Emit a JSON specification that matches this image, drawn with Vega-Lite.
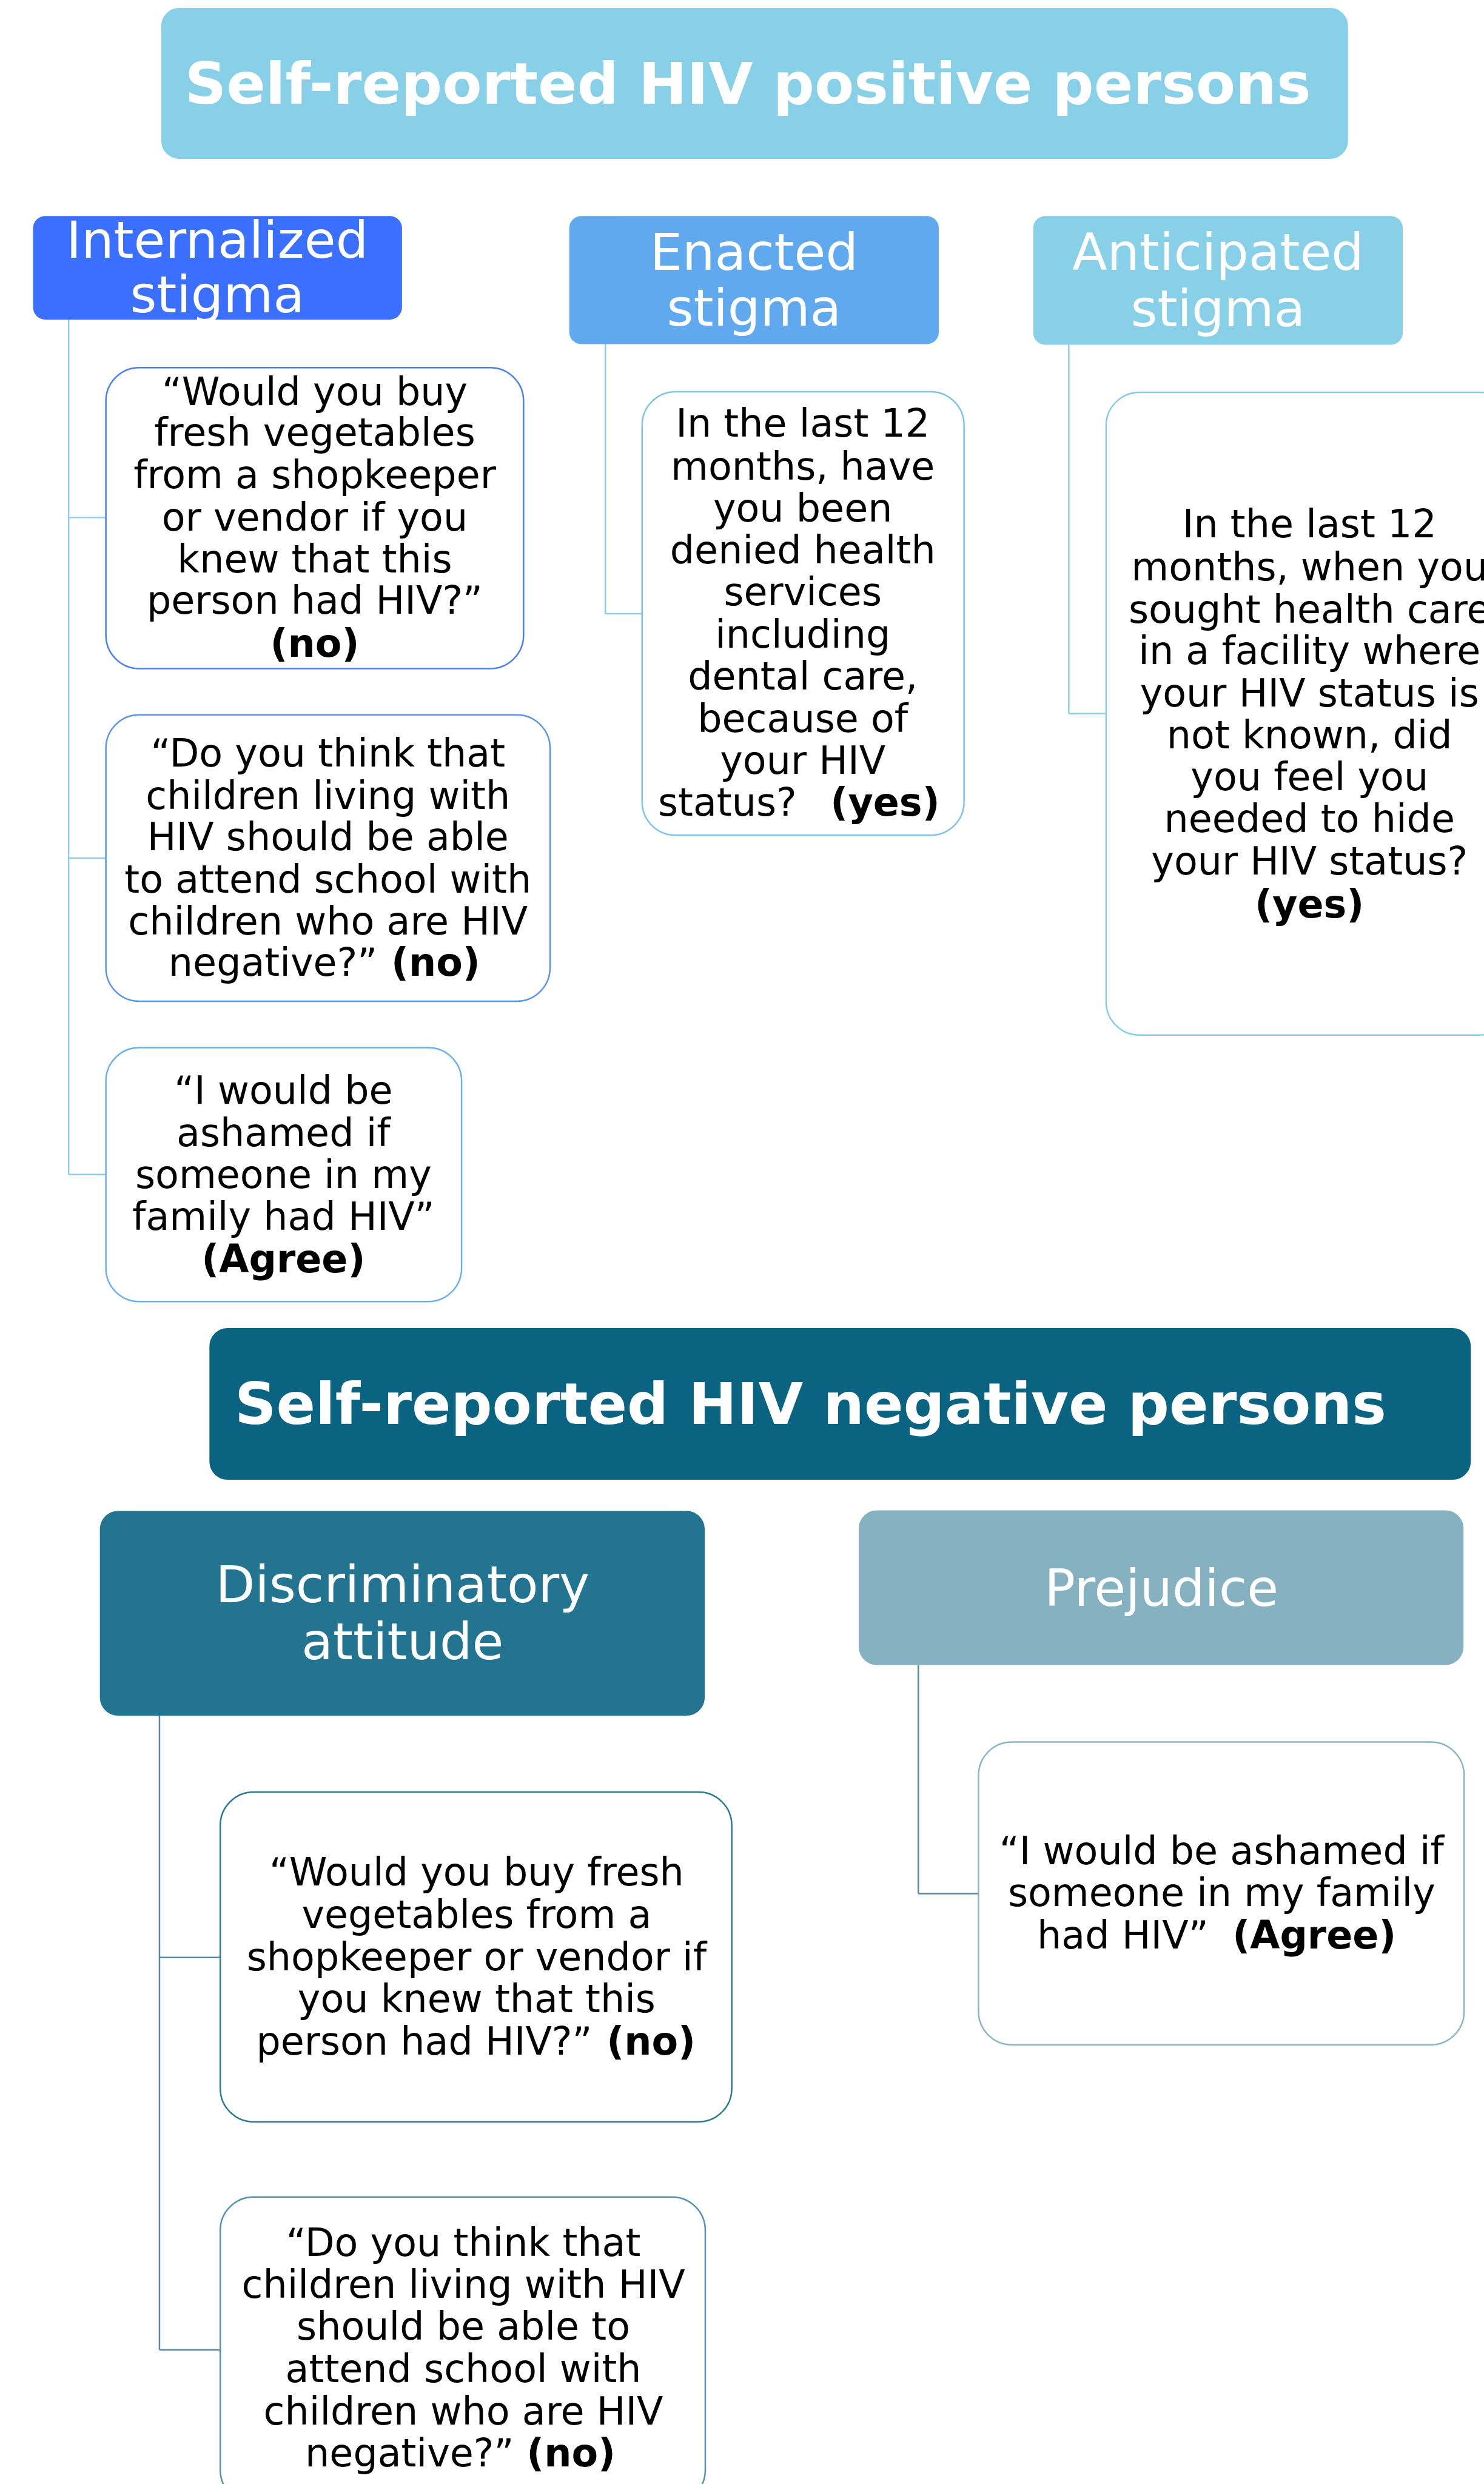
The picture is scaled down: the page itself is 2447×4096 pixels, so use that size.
{
  "$schema": "https://vega.github.io/schema/vega-lite/v6.json",
  "width": 2447,
  "height": 4096,
  "padding": 0,
  "autosize": {"type": "none"},
  "background": "white",
  "config": {"view": {"stroke": null}},
  "datasets": {
    "boxes": [
      {"id": "title_pos", "x": 268, "x2": 2240, "y": 13, "y2": 264, "kind": "fill30"},
      {"id": "title_neg", "x": 348, "x2": 2444, "y": 2207, "y2": 2459, "kind": "fill30"},
      {"id": "h_int", "x": 55, "x2": 668, "y": 359, "y2": 531, "kind": "fill20"},
      {"id": "h_ena", "x": 946, "x2": 1560, "y": 359, "y2": 572, "kind": "fill20"},
      {"id": "h_ant", "x": 1717, "x2": 2331, "y": 359, "y2": 573, "kind": "fill20"},
      {"id": "h_dis", "x": 166, "x2": 1171, "y": 2511, "y2": 2851, "kind": "fill30"},
      {"id": "h_pre", "x": 1427, "x2": 2432, "y": 2510, "y2": 2767, "kind": "fill30"},
      {"id": "b_int1", "x": 176, "x2": 870, "y": 611, "y2": 1111, "kind": "outline"},
      {"id": "b_int2", "x": 176, "x2": 914, "y": 1188, "y2": 1664, "kind": "outline"},
      {"id": "b_int3", "x": 176, "x2": 767, "y": 1741, "y2": 2163, "kind": "outline"},
      {"id": "b_ena", "x": 1067, "x2": 1602, "y": 651, "y2": 1388, "kind": "outline"},
      {"id": "b_ant", "x": 1838, "x2": 2515, "y": 652, "y2": 1720, "kind": "outline"},
      {"id": "b_pre", "x": 1626, "x2": 2433, "y": 2895, "y2": 3398, "kind": "outline"},
      {"id": "b_dis1", "x": 366, "x2": 1216, "y": 2978, "y2": 3526, "kind": "outline"},
      {"id": "b_dis2", "x": 366, "x2": 1172, "y": 3651, "y2": 4160, "kind": "outline"}
    ],
    "links": [
      {"grp": "c_pos", "x": 114, "y": 531, "x2": 114, "y2": 1952},
      {"grp": "c_pos", "x": 114, "y": 860, "x2": 176, "y2": 860},
      {"grp": "c_pos", "x": 114, "y": 1426, "x2": 176, "y2": 1426},
      {"grp": "c_pos", "x": 114, "y": 1952, "x2": 176, "y2": 1952},
      {"grp": "c_pos", "x": 1006, "y": 572, "x2": 1006, "y2": 1020},
      {"grp": "c_pos", "x": 1006, "y": 1020, "x2": 1067, "y2": 1020},
      {"grp": "c_pos", "x": 1776, "y": 573, "x2": 1776, "y2": 1186},
      {"grp": "c_pos", "x": 1776, "y": 1186, "x2": 1838, "y2": 1186},
      {"grp": "c_neg", "x": 265, "y": 2851, "x2": 265, "y2": 3905},
      {"grp": "c_neg", "x": 265, "y": 3253, "x2": 366, "y2": 3253},
      {"grp": "c_neg", "x": 265, "y": 3905, "x2": 366, "y2": 3905},
      {"grp": "c_neg", "x": 1526, "y": 2767, "x2": 1526, "y2": 3147},
      {"grp": "c_neg", "x": 1526, "y": 3147, "x2": 1626, "y2": 3147}
    ],
    "texts": [
      {"t": "Self-reported HIV positive persons", "x": 307, "y": 172, "s": "title"},
      {"t": "Self-reported HIV negative persons", "x": 390, "y": 2366, "s": "title"},
      {"t": "Internalized", "x": 361, "y": 428, "s": "head"},
      {"t": "stigma", "x": 361, "y": 519, "s": "head"},
      {"t": "Enacted", "x": 1253, "y": 448, "s": "head"},
      {"t": "stigma", "x": 1253, "y": 541, "s": "head"},
      {"t": "Anticipated", "x": 2024, "y": 448, "s": "head"},
      {"t": "stigma", "x": 2024, "y": 542, "s": "head"},
      {"t": "Discriminatory", "x": 669, "y": 2663, "s": "head"},
      {"t": "attitude", "x": 669, "y": 2757, "s": "head"},
      {"t": "Prejudice", "x": 1930, "y": 2669, "s": "head"},
      {"t": "“Would you buy", "x": 523, "y": 673, "s": "b"},
      {"t": "fresh vegetables", "x": 523, "y": 741, "s": "b"},
      {"t": "from a shopkeeper", "x": 523, "y": 811, "s": "b"},
      {"t": "or vendor if you", "x": 523, "y": 882, "s": "b"},
      {"t": "knew that this", "x": 523, "y": 951, "s": "b"},
      {"t": "person had HIV?”", "x": 523, "y": 1020, "s": "b"},
      {"t": "(no)", "x": 523, "y": 1091, "s": "bb"},
      {"t": "“Do you think that", "x": 545, "y": 1274, "s": "b"},
      {"t": "children living with", "x": 545, "y": 1344, "s": "b"},
      {"t": "HIV should be able", "x": 545, "y": 1413, "s": "b"},
      {"t": "to attend school with", "x": 545, "y": 1483, "s": "b"},
      {"t": "children who are HIV", "x": 545, "y": 1553, "s": "b"},
      {"t": "negative?”", "x": 627, "y": 1622, "s": "br"},
      {"t": "(no)", "x": 650, "y": 1622, "s": "bl"},
      {"t": "“I would be", "x": 471, "y": 1834, "s": "b"},
      {"t": "ashamed if", "x": 471, "y": 1905, "s": "b"},
      {"t": "someone in my", "x": 471, "y": 1974, "s": "b"},
      {"t": "family had HIV”", "x": 471, "y": 2044, "s": "b"},
      {"t": "(Agree)", "x": 471, "y": 2114, "s": "bb"},
      {"t": "In the last 12", "x": 1334, "y": 726, "s": "b"},
      {"t": "months, have", "x": 1334, "y": 797, "s": "b"},
      {"t": "you been", "x": 1334, "y": 867, "s": "b"},
      {"t": "denied health", "x": 1334, "y": 936, "s": "b"},
      {"t": "services", "x": 1334, "y": 1006, "s": "b"},
      {"t": "including", "x": 1334, "y": 1076, "s": "b"},
      {"t": "dental care,", "x": 1334, "y": 1146, "s": "b"},
      {"t": "because of", "x": 1334, "y": 1216, "s": "b"},
      {"t": "your HIV", "x": 1334, "y": 1286, "s": "b"},
      {"t": "status?", "x": 1324, "y": 1356, "s": "br"},
      {"t": "(yes)", "x": 1380, "y": 1356, "s": "bl"},
      {"t": "In the last 12", "x": 2176, "y": 893, "s": "b"},
      {"t": "months, when you", "x": 2176, "y": 964, "s": "b"},
      {"t": "sought health care", "x": 2176, "y": 1035, "s": "b"},
      {"t": "in a facility where", "x": 2176, "y": 1104, "s": "b"},
      {"t": "your HIV status is", "x": 2176, "y": 1174, "s": "b"},
      {"t": "not known, did", "x": 2176, "y": 1244, "s": "b"},
      {"t": "you feel you", "x": 2176, "y": 1313, "s": "b"},
      {"t": "needed to hide", "x": 2176, "y": 1383, "s": "b"},
      {"t": "your HIV status?", "x": 2176, "y": 1453, "s": "b"},
      {"t": "(yes)", "x": 2176, "y": 1525, "s": "bb"},
      {"t": "“I would be ashamed if", "x": 2030, "y": 3098, "s": "b"},
      {"t": "someone in my family", "x": 2030, "y": 3168, "s": "b"},
      {"t": "had HIV”", "x": 2008, "y": 3238, "s": "br"},
      {"t": "(Agree)", "x": 2048, "y": 3238, "s": "bl"},
      {"t": "“Would you buy fresh", "x": 792, "y": 3133, "s": "b"},
      {"t": "vegetables from a", "x": 792, "y": 3204, "s": "b"},
      {"t": "shopkeeper or vendor if", "x": 792, "y": 3274, "s": "b"},
      {"t": "you knew that this", "x": 792, "y": 3344, "s": "b"},
      {"t": "person had HIV?”", "x": 984, "y": 3414, "s": "br"},
      {"t": "(no)", "x": 1008, "y": 3414, "s": "bl"},
      {"t": "“Do you think that", "x": 770, "y": 3749, "s": "b"},
      {"t": "children living with HIV", "x": 770, "y": 3819, "s": "b"},
      {"t": "should be able to", "x": 770, "y": 3888, "s": "b"},
      {"t": "attend school with", "x": 770, "y": 3959, "s": "b"},
      {"t": "children who are HIV", "x": 770, "y": 4029, "s": "b"},
      {"t": "negative?”", "x": 854, "y": 4099, "s": "br"},
      {"t": "(no)", "x": 875, "y": 4099, "s": "bl"}
    ]
  },
  "encoding": {
    "x": {"field": "x", "type": "quantitative", "scale": {"domain": [0, 2466], "nice": false, "zero": false}, "axis": null},
    "y": {"field": "y", "type": "quantitative", "scale": {"domain": [0, 4128], "nice": false, "zero": false, "reverse": true}, "axis": null}
  },
  "layer": [
    {
      "data": {"name": "links"},
      "mark": {"type": "rule", "strokeWidth": 2.5, "clip": true},
      "encoding": {
        "x2": {"field": "x2"},
        "y2": {"field": "y2"},
        "stroke": {"field": "grp", "type": "nominal", "legend": null,
          "scale": {"domain": ["b_int1", "b_int2", "b_int3", "b_ena", "b_ant", "b_pre", "b_dis1", "b_dis2", "c_pos", "c_neg"],
                    "range": ["#4A7FF2", "#5A95EC", "#6BB0EC", "#7FC3EA", "#88CDE8", "#8AB5C4", "#2B7896", "#5592AC", "#8DCDEA", "#5788A0"]}}
      }
    },
    {
      "data": {"name": "boxes"},
      "transform": [{"filter": "datum.kind === 'fill20'"}],
      "mark": {"type": "rect", "cornerRadius": 20, "clip": true},
      "encoding": {
        "x2": {"field": "x2"},
        "y2": {"field": "y2"},
        "fill": {"field": "id", "type": "nominal", "legend": null,
          "scale": {"domain": ["title_pos", "title_neg", "h_int", "h_ena", "h_ant", "h_dis", "h_pre"],
                    "range": ["#88CFE8", "#0A6481", "#3B6FFF", "#60A9EF", "#88CFE8", "#237490", "#85B1C1"]}}
      }
    },
    {
      "data": {"name": "boxes"},
      "transform": [{"filter": "datum.kind === 'fill30'"}],
      "mark": {"type": "rect", "cornerRadius": 30, "clip": true},
      "encoding": {
        "x2": {"field": "x2"},
        "y2": {"field": "y2"},
        "fill": {"field": "id", "type": "nominal", "legend": null,
          "scale": {"domain": ["title_pos", "title_neg", "h_int", "h_ena", "h_ant", "h_dis", "h_pre"],
                    "range": ["#88CFE8", "#0A6481", "#3B6FFF", "#60A9EF", "#88CFE8", "#237490", "#85B1C1"]}}
      }
    },
    {
      "data": {"name": "boxes"},
      "transform": [{"filter": "datum.kind === 'outline'"}],
      "mark": {"type": "rect", "cornerRadius": 55, "fill": "white", "strokeWidth": 2.5, "clip": true},
      "encoding": {
        "x2": {"field": "x2"},
        "y2": {"field": "y2"},
        "stroke": {"field": "id", "type": "nominal", "legend": null,
          "scale": {"domain": ["b_int1", "b_int2", "b_int3", "b_ena", "b_ant", "b_pre", "b_dis1", "b_dis2", "c_pos", "c_neg"],
                    "range": ["#4A7FF2", "#5A95EC", "#6BB0EC", "#7FC3EA", "#88CDE8", "#8AB5C4", "#2B7896", "#5592AC", "#8DCDEA", "#5788A0"]}}
      }
    },
    {
      "data": {"name": "texts"},
      "transform": [{"filter": "datum.s === 'title'"}],
      "mark": {"type": "text", "align": "left", "baseline": "alphabetic", "font": "DejaVu Sans", "fontWeight": "bold", "fontSize": 95.2, "color": "white", "clip": true},
      "encoding": {"text": {"field": "t"}}
    },
    {
      "data": {"name": "texts"},
      "transform": [{"filter": "datum.s === 'head'"}],
      "mark": {"type": "text", "align": "center", "baseline": "alphabetic", "font": "DejaVu Sans", "fontSize": 84.3, "color": "white", "clip": true},
      "encoding": {"text": {"field": "t"}}
    },
    {
      "data": {"name": "texts"},
      "transform": [{"filter": "datum.s === 'b'"}],
      "mark": {"type": "text", "align": "center", "baseline": "alphabetic", "font": "DejaVu Sans", "fontSize": 63.5, "color": "black", "clip": true},
      "encoding": {"text": {"field": "t"}}
    },
    {
      "data": {"name": "texts"},
      "transform": [{"filter": "datum.s === 'bb'"}],
      "mark": {"type": "text", "align": "center", "baseline": "alphabetic", "font": "DejaVu Sans", "fontWeight": "bold", "fontSize": 63.5, "color": "black", "clip": true},
      "encoding": {"text": {"field": "t"}}
    },
    {
      "data": {"name": "texts"},
      "transform": [{"filter": "datum.s === 'br'"}],
      "mark": {"type": "text", "align": "right", "baseline": "alphabetic", "font": "DejaVu Sans", "fontSize": 63.5, "color": "black", "clip": true},
      "encoding": {"text": {"field": "t"}}
    },
    {
      "data": {"name": "texts"},
      "transform": [{"filter": "datum.s === 'bl'"}],
      "mark": {"type": "text", "align": "left", "baseline": "alphabetic", "font": "DejaVu Sans", "fontWeight": "bold", "fontSize": 63.5, "color": "black", "clip": true},
      "encoding": {"text": {"field": "t"}}
    }
  ]
}
